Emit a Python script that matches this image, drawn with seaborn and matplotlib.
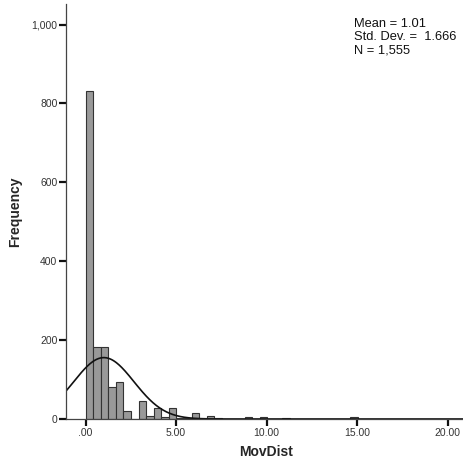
import numpy as np
import pandas as pd
import matplotlib
matplotlib.use("Agg")
import matplotlib.pyplot as plt
import seaborn as sns

# Histogram bin counts (bin width ~0.418 starting at 0)
bin_width = 0.418
counts = [832, 182, 182, 80, 93, 20, 0, 46, 7, 29, 5, 29,
          3, 2, 14, 1, 7, 2, 1, 1, 0, 6, 0, 6,
          0, 0, 2, 0, 0, 0, 0, 1, 0, 0, 0, 4]
mean_val = 1.01
sd_val = 1.666
n_val = 1555
xticks = [0, 5, 10, 15, 20]
xtick_labels = [".00", "5.00", "10.00", "15.00", "20.00"]
yticks = [0, 200, 400, 600, 800, 1000]
ytick_labels = ["0", "200", "400", "600", "800", "1,000"]
stats_lines = ["Mean = 1.01", "Std. Dev. =  1.666", "N = 1,555"]

sns.set_style("ticks")
plt.rcParams["font.family"] = ["Liberation Sans", "DejaVu Sans"]

n_bins = len(counts)
centers = (np.arange(n_bins) + 0.5) * bin_width
df = pd.DataFrame({"MovDist": centers, "count": counts})

fig = plt.figure(figsize=(4.64, 4.63), dpi=100)
ax = fig.add_axes([66 / 464, 1 - 419 / 463, 1 - 66 / 464, (419 - 4) / 463])

sns.histplot(data=df, x="MovDist", weights="count", bins=n_bins,
             binrange=(0, n_bins * bin_width), ax=ax,
             color="#999999", edgecolor="#333333", linewidth=0.8, alpha=1.0)

xmin, xmax = -1.08, 20.9
xs = np.linspace(xmin, xmax, 600)
ys = n_val * bin_width / (sd_val * np.sqrt(2 * np.pi)) * np.exp(-0.5 * ((xs - mean_val) / sd_val) ** 2)
sns.lineplot(x=xs, y=ys, ax=ax, color="#111111", linewidth=1.2)

ax.set_xlim(xmin, xmax)
ax.set_ylim(0, 1052)
ax.set_xticks(xticks)
ax.set_xticklabels(xtick_labels)
ax.set_yticks(yticks)
ax.set_yticklabels(ytick_labels)
ax.tick_params(axis="both", direction="out", length=5, width=1.6, color="#111111",
               labelsize=7.5, labelcolor="#333333", pad=1.2)
for s in ["top", "right"]:
    ax.spines[s].set_visible(False)
for s in ["left", "bottom"]:
    ax.spines[s].set_color("#444444")
    ax.spines[s].set_linewidth(0.9)

ax.set_xlabel("MovDist", fontsize=10, fontweight="bold")
ax.set_ylabel("Frequency", fontsize=10, fontweight="bold")
ax.xaxis.set_label_coords((266 - 66) / 398, (419 - 452) / 415)
ax.yaxis.set_label_coords((15 - 66) / 398, 0.5)
ax.xaxis.label.set_va("center")
ax.yaxis.label.set_va("center")

fig.text(354 / 464, 1 - 18 / 463, "\n".join(stats_lines), ha="left", va="top",
         fontsize=9.3, color="#111111", linespacing=1.15)

fig.savefig("out.png", dpi=100)
